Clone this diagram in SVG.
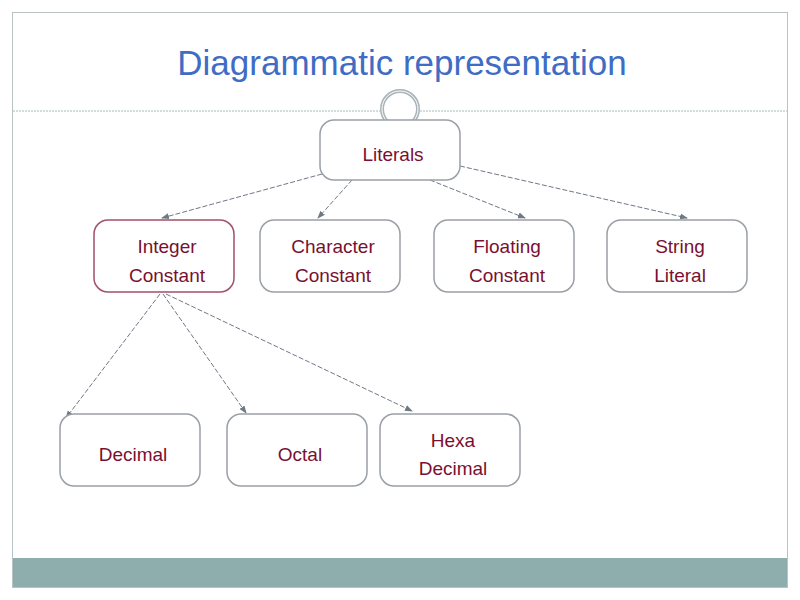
<svg xmlns="http://www.w3.org/2000/svg" width="800" height="600" viewBox="0 0 800 600">
<style>
.n{fill:#fff;stroke:#9aa0a6;stroke-width:1.5}
.t{font-family:"Liberation Sans",Arial,sans-serif;font-size:19px;fill:#7a1030;text-anchor:middle}
.c{stroke:#6f7885;stroke-width:1;stroke-dasharray:5 2;fill:none;marker-end:url(#a)}
</style>
<defs><marker id="a" markerWidth="8" markerHeight="8" refX="7" refY="4" orient="auto" markerUnits="userSpaceOnUse"><path d="M0,1 L8,4 L0,7 Z" fill="#6f7885"/></marker></defs>
<rect x="0" y="0" width="800" height="600" fill="#fff"/>
<rect x="12.5" y="12.5" width="775" height="575" fill="none" stroke="#b8c4c4"/>
<rect x="13" y="558" width="774" height="29" fill="#8eadad"/>
<text x="402" y="75" font-family="Liberation Sans,Arial,sans-serif" font-size="35" fill="#3f6cc4" text-anchor="middle">Diagrammatic representation</text>
<line x1="13" y1="111" x2="380" y2="111" stroke="#a9bcbc" stroke-dasharray="2 1"/>
<line x1="420" y1="111" x2="787" y2="111" stroke="#a9bcbc" stroke-dasharray="2 1"/>
<circle cx="400" cy="109" r="18" fill="#fff" stroke="#a9b4b8" stroke-width="4"/>
<circle cx="400" cy="109" r="18" fill="none" stroke="#fff" stroke-width="1"/>
<g id="connectors">
<path class="c" d="M322,174 L162,218"/>
<path class="c" d="M352,180 L318,218"/>
<path class="c" d="M430,180 L525,218"/>
<path class="c" d="M460,166 L687,218"/>
<path class="c" d="M160,294 L66,418"/>
<path class="c" d="M163,294 L246,413"/>
<path class="c" d="M166,294 L412,411"/>
</g>
<g id="literals"><rect class="n" x="320" y="120" width="140" height="60" rx="14"/><text class="t" x="393" y="161">Literals</text></g>
<g id="integer"><rect class="n" x="94" y="220" width="140" height="72" rx="14" style="stroke:#a05068"/><text class="t" x="167" y="253">Integer</text><text class="t" x="167" y="282">Constant</text></g>
<g id="character"><rect class="n" x="260" y="220" width="140" height="72" rx="14"/><text class="t" x="333" y="253">Character</text><text class="t" x="333" y="282">Constant</text></g>
<g id="floating"><rect class="n" x="434" y="220" width="140" height="72" rx="14"/><text class="t" x="507" y="253">Floating</text><text class="t" x="507" y="282">Constant</text></g>
<g id="string"><rect class="n" x="607" y="220" width="140" height="72" rx="14"/><text class="t" x="680" y="253">String</text><text class="t" x="680" y="282">Literal</text></g>
<g id="decimal"><rect class="n" x="60" y="414" width="140" height="72" rx="14"/><text class="t" x="133" y="461">Decimal</text></g>
<g id="octal"><rect class="n" x="227" y="414" width="140" height="72" rx="14"/><text class="t" x="300" y="461">Octal</text></g>
<g id="hexa"><rect class="n" x="380" y="414" width="140" height="72" rx="14"/><text class="t" x="453" y="447">Hexa</text><text class="t" x="453" y="475">Decimal</text></g>
</svg>
